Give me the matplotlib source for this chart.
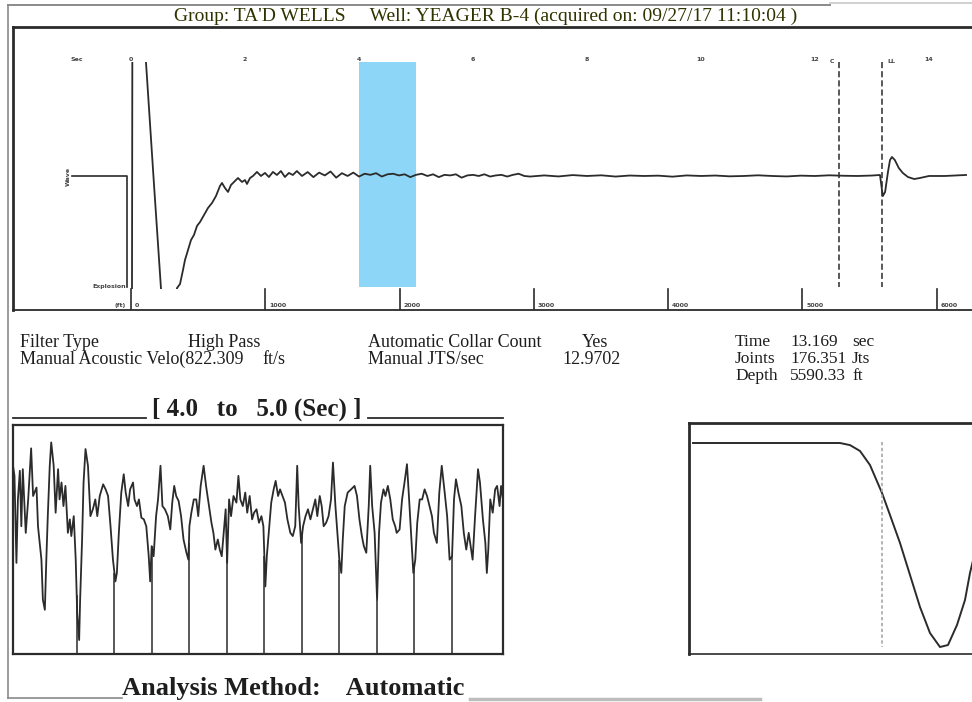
import numpy as np
import matplotlib
matplotlib.use("Agg")
import matplotlib.pyplot as plt
from matplotlib.patches import Rectangle

# ---------------------------------------------------------------
# Data
# ---------------------------------------------------------------

header = "Group: TA'D WELLS     Well: YEAGER B-4 (acquired on: 09/27/17 11:10:04 )"

# main trace (time in sec, normalised amplitude)
shot_t = [0.0175, 0.025, 0.18, 0.263, 0.40, 0.526, 0.62, 0.72, 0.77,
          0.807, 0.860, 0.912, 0.947, 1.000, 1.053, 1.105, 1.158, 1.211, 1.281,
          1.351, 1.421, 1.491, 1.561, 1.596, 1.649, 1.702, 1.754, 1.825, 1.877,
          1.947, 2.000, 2.035, 2.088, 2.140, 2.210, 2.280, 2.350, 2.420, 2.490,
          2.560, 2.630, 2.700, 2.770, 2.840, 2.910]
shot_a = [-1.0, 1.6, 1.6, 1.01, -0.05, -1.0, -1.5, -1.5, -1.2,
          -0.996, -0.96, -0.836, -0.747, -0.658, -0.569, -0.524, -0.444, -0.409, -0.347,
          -0.284, -0.24, -0.178, -0.089, -0.062, -0.107, -0.142, -0.08, -0.044, -0.018,
          -0.053, -0.036, -0.071, -0.018, 0.0, 0.036, 0.0, 0.027, -0.009, 0.036,
          0.009, 0.044, -0.009, 0.027, 0.009, 0.044]

# settled part, 3.0 - 7.0 sec
flat_t = [3.0, 3.1, 3.2, 3.3, 3.4, 3.5, 3.6, 3.7, 3.8, 3.9, 4.0, 4.1, 4.2, 4.3,
          4.4, 4.5, 4.6, 4.7, 4.8, 4.9, 5.0, 5.1, 5.2, 5.3, 5.4, 5.5, 5.6, 5.7,
          5.8, 5.9, 6.0, 6.1, 6.2, 6.3, 6.4, 6.5, 6.6, 6.7, 6.8, 6.9, 7.0]
flat_a = [0.0, 0.035, -0.01, 0.03, 0.005, 0.04, -0.015, 0.025, 0.0, 0.03, -0.005,
          0.02, 0.01, 0.025, -0.005, 0.015, 0.02, 0.005, 0.015, -0.01, 0.01, 0.02,
          0.0, 0.015, -0.01, 0.01, 0.005, 0.015, -0.015, 0.005, 0.01, 0.0, 0.015,
          -0.005, 0.005, 0.01, -0.005, 0.01, 0.02, 0.0, -0.005]

# quiet part up to the liquid level
quiet_t = [7.25, 7.5, 7.75, 8.0, 8.25, 8.5, 8.75, 9.0, 9.25, 9.5, 9.75, 10.0,
           10.25, 10.5, 10.75, 11.0, 11.25, 11.5, 11.75, 12.0, 12.25, 12.5,
           12.75, 13.0]
quiet_a = [0.005, -0.004, 0.008, 0.0, 0.006, -0.005, 0.004, 0.0, 0.003, -0.006,
           0.005, 0.0, 0.004, -0.003, 0.0, 0.006, 0.0, -0.004, 0.003, 0.0,
           0.006, 0.002, 0.0, 0.004]

# liquid level echo
echo_t = [13.14, 13.175, 13.19, 13.23, 13.28, 13.316, 13.35, 13.40, 13.47,
          13.54, 13.63, 13.74, 13.84, 14.0, 14.28, 14.65]
echo_a = [0.009, -0.124, -0.178, -0.142, 0.036, 0.142, 0.169, 0.142, 0.071,
          0.027, -0.009, -0.027, -0.018, 0.0, 0.0, 0.009]

time_ticks = [0, 2, 4, 6, 8, 10, 12, 14]
depth_ticks = [0, 1000, 2000, 3000, 4000, 5000, 6000]
ft_per_sec = 424.5
window = (4.0, 5.0)
collar_t = 12.42
liquid_t = 13.169

# 4.0 - 5.0 sec window (ms from 4.0 s, amplitude %)
win_ms = [0, 3, 7, 10, 14, 17, 20, 26, 31, 37, 41, 48, 51, 58, 61, 65, 68, 71, 75,
          78, 83, 87, 92, 95, 99, 103, 107, 112, 116, 119, 124, 128, 131, 135, 137,
          141, 144, 148, 153, 158, 163, 168, 172, 177, 184, 189, 194, 199, 204, 209,
          212, 216, 221, 226, 230, 235, 239, 245, 248, 253, 257, 262, 267, 272, 277,
          280, 283, 287, 292, 296, 301, 305, 310, 316, 321, 325, 329, 333, 338, 343,
          348, 354, 358, 360, 364, 369, 374, 378, 383, 389, 394, 400, 405, 409, 413,
          418, 422, 426, 430, 434, 437, 441, 445, 450, 456, 460, 464, 469, 474, 478,
          483, 488, 492, 497, 502, 507, 511, 515, 518, 522, 527, 532, 536, 541, 545,
          550, 555, 560, 566, 571, 576, 580, 583, 588, 592, 597, 602, 607, 612, 617,
          621, 626, 630, 634, 639, 644, 649, 653, 658, 662, 666, 670, 673, 677, 683,
          690, 697, 702, 707, 712, 716, 721, 726, 729, 733, 738, 743, 747, 751, 756,
          760, 765, 770, 775, 780, 783, 789, 794, 799, 804, 808, 813, 817, 821, 825,
          830, 835, 840, 845, 850, 855, 859, 865, 870, 875, 881, 886, 891, 896, 900,
          904, 909, 915, 920, 925, 930, 934, 938, 943, 949, 953, 959, 964, 967, 970,
          974, 979, 984, 988, 993, 996, 1000]
win_amp = [82.2, 77.8, 39.8, 67.5, 80.0, 55.8, 80.7, 52.9, 67.5, 89.8, 69.0, 72.7,
           55.8, 41.2, 23.7, 19.3, 41.2, 60.2, 82.2, 92.4, 82.2, 61.7, 80.7, 67.5,
           74.9, 64.6, 73.4, 52.9, 58.8, 51.5, 60.2, 41.2, 17.8, 6.1, 23.7, 50.0,
           74.9, 89.5, 82.2, 60.2, 63.2, 67.5, 60.2, 69.0, 74.1, 71.9, 69.0, 55.8,
           41.2, 31.7, 35.4, 52.9, 70.5, 78.5, 70.5, 64.6, 71.9, 74.9, 67.5, 64.6,
           67.5, 59.5, 58.8, 55.8, 42.7, 31.7, 47.1, 42.7, 60.2, 67.5, 82.2, 64.6,
           63.2, 60.2, 54.4, 66.1, 73.4, 69.0, 66.8, 60.2, 50.0, 44.2, 41.2, 55.8,
           61.7, 67.5, 67.5, 60.2, 73.4, 82.2, 73.4, 64.6, 57.3, 52.9, 45.6, 50.0,
           45.6, 42.7, 52.9, 63.2, 39.8, 67.5, 60.2, 69.0, 66.1, 77.8, 67.5, 64.6,
           70.5, 61.7, 69.0, 58.8, 61.7, 63.2, 57.3, 60.2, 55.8, 29.5, 42.7, 52.9,
           66.1, 71.9, 75.6, 69.0, 71.9, 69.0, 66.1, 58.8, 52.9, 51.5, 55.8, 82.2,
           64.6, 48.5, 55.8, 60.2, 63.2, 58.8, 63.2, 67.5, 60.2, 69.0, 64.6, 55.8,
           57.3, 60.2, 67.5, 83.6, 64.6, 52.9, 41.2, 35.4, 50.0, 64.6, 70.5, 71.9,
           73.4, 69.0, 58.8, 51.5, 47.1, 44.2, 64.6, 82.2, 64.6, 52.9, 23.7, 52.9,
           66.1, 71.9, 69.0, 73.4, 67.5, 58.8, 55.8, 52.9, 54.4, 67.5, 74.9, 82.9,
           69.0, 50.0, 35.4, 41.2, 57.3, 67.5, 67.5, 71.9, 69.0, 64.6, 60.2, 52.9,
           48.5, 70.5, 82.2, 70.5, 60.2, 41.2, 42.7, 67.5, 76.3, 70.5, 64.6, 52.9,
           45.6, 52.9, 47.1, 41.2, 60.2, 80.7, 74.9, 58.8, 48.5, 35.4, 45.6, 67.5,
           61.7, 71.9, 73.4, 64.6, 73.4, 67.5]
joint_ms = [130, 207, 283, 359, 436, 513, 590, 666, 743, 819, 896]

# collar wavelet (lag, normalised amplitude)
lag = [0.4, 7.1, 15.1, 16.1, 17.1, 18.1, 19.3, 20.1, 21.1, 22.1, 23.1, 24.1,
       25.1, 25.9, 26.8, 27.6, 28.1, 28.7, 29.6]
wavelet = [1.0, 1.0, 1.0, 0.98, 0.924, 0.79, 0.524, 0.314, 0.048, -0.257, -0.562,
           -0.81, -0.943, -0.924, -0.733, -0.495, -0.238, 0.0, 0.4]
pick_lag = 19.3

# ---------------------------------------------------------------
# Figure helpers (pixel layout of the 972 x 702 print)
# ---------------------------------------------------------------
W, H = 972, 702
INK = "#2b2b2b"
SERIF = "Liberation Serif"


def box(x0, y0, x1, y1):
    return [x0 / W, 1 - y1 / H, (x1 - x0) / W, (y1 - y0) / H]


def ftext(x, y, s, **kw):
    kw.setdefault("family", SERIF)
    kw.setdefault("color", "#1e1e1e")
    kw.setdefault("va", "center")
    fig.text(x / W, 1 - y / H, s, **kw)


fig = plt.figure(figsize=(W / 100, H / 100), dpi=100)

# outer frame of the printout
frame = fig.add_axes([0, 0, 1, 1])
frame.set_xlim(0, W)
frame.set_ylim(H, 0)
frame.axis("off")
frame.plot([8, 8], [5, 698], color="#8a8a8a", lw=1.2)
frame.plot([8, 830], [5, 5], color="#8a8a8a", lw=1.4)
frame.plot([830, 972], [3, 3], color="#c8c8c8", lw=1.2)
frame.plot([8, 122], [698, 698], color="#8a8a8a", lw=1.2)
frame.plot([470, 760], [699, 699], color="#bdbdbd", lw=2.5)

ftext(486, 16, header, ha="center", fontsize=14, color="#2f3300")

# ---------------------------------------------------------------
# Top panel: full shot
# ---------------------------------------------------------------
ax = fig.add_axes(box(13, 27, 980, 310))
x_lo = (13 - 131) / 57
x_hi = (980 - 131) / 57
ax.set_xlim(x_lo, x_hi)
ax.set_ylim(-1.191, 1.324)
ax.set_xticks([])
ax.set_yticks([])
for side in ["left", "top"]:
    ax.spines[side].set_linewidth(2)
    ax.spines[side].set_color(INK)
ax.spines["bottom"].set_linewidth(1.3)
ax.spines["bottom"].set_color(INK)
ax.spines["right"].set_visible(False)

ax.axvspan(window[0], window[1], ymin=(-0.99 + 1.191) / 2.515, ymax=(1.01 + 1.191) / 2.515,
           color="#8dd6f7", lw=0)

t_all = shot_t + flat_t + quiet_t + echo_t
a_all = shot_a + flat_a + quiet_a + echo_a
line, = ax.plot(t_all, a_all, color=INK, lw=1.3)
line.set_clip_path(Rectangle((x_lo, -1.0), x_hi - x_lo, 2.01, transform=ax.transData))

# explosion marker step
ax.plot([-1.04, -0.075, -0.075], [0, 0, -0.99], color=INK, lw=1.2)

for t_mark in [collar_t, liquid_t]:
    ax.plot([t_mark, t_mark], [1.01, -0.99], color=INK, lw=1.1, ls=(0, (4, 2)))

tick_kw = dict(fontsize=4.5, fontweight="bold", color="#444444", family="DejaVu Sans")
for t in time_ticks:
    ax.text(t, 1.031, str(t), ha="center", va="center", **tick_kw)
ax.text(-0.95, 1.031, "Sec", ha="center", va="center", **tick_kw)
ax.text(12.3, 1.02, "C", ha="center", va="center", **tick_kw)
ax.text(liquid_t + 0.1, 1.02, "LL", ha="left", va="center", **tick_kw)
ax.text(-1.1, 0, "Wave", rotation=90, ha="center", va="center", **tick_kw)
ax.text(-0.08, -0.98, "Explosion", ha="right", va="center", **tick_kw)

for d in depth_ticks:
    td = d / ft_per_sec
    ax.plot([td, td], [-1.0, -1.191], color=INK, lw=1.2)
    ax.text(td + 0.07, -1.155, str(d), ha="left", va="center", **tick_kw)
ax.text(-0.1, -1.155, "(ft)", ha="right", va="center", **tick_kw)

# ---------------------------------------------------------------
# Settings block
# ---------------------------------------------------------------
fs = 13
ftext(20, 342, "Filter Type", fontsize=fs)
ftext(188, 342, "High Pass", fontsize=fs)
ftext(368, 342, "Automatic Collar Count", fontsize=fs)
ftext(608, 342, "Yes", fontsize=fs, ha="right")
ftext(20, 359, "Manual Acoustic Velo(822.309", fontsize=fs)
ftext(262, 359, "ft/s", fontsize=fs)
ftext(368, 359, "Manual JTS/sec", fontsize=fs)
ftext(562, 359, "12.9702", fontsize=fs)

fr = 12.5
ftext(735, 342, "Time", fontsize=fr)
ftext(790, 342, "13.169", fontsize=fr)
ftext(852, 342, "sec", fontsize=fr)
ftext(735, 359, "Joints", fontsize=fr)
ftext(790, 359, "176.351", fontsize=fr)
ftext(852, 359, "Jts", fontsize=fr)
ftext(735, 376, "Depth", fontsize=fr)
ftext(790, 376, "5590.33", fontsize=fr)
ftext(852, 376, "ft", fontsize=fr)

# ---------------------------------------------------------------
# Lower left: 4.0 - 5.0 sec window with joint picks
# ---------------------------------------------------------------
ftext(257, 409, "[ 4.0   to   5.0 (Sec) ]", fontsize=18, fontweight="bold", ha="center")
frame.plot([13, 146], [418, 418], color=INK, lw=1.3)
frame.plot([368, 503], [418, 418], color=INK, lw=1.3)

axw = fig.add_axes(box(13, 425, 503, 654))
axw.set_xlim(0, 1000)
axw.set_ylim(0, 100)
axw.set_xticks([])
axw.set_yticks([])
for s in axw.spines.values():
    s.set_linewidth(1.6)
    s.set_color(INK)
axw.plot(win_ms, win_amp, color=INK, lw=1.3)
axw.vlines(joint_ms, 0, np.interp(joint_ms, win_ms, win_amp), color=INK, lw=1.1)

ftext(122, 689, "Analysis Method:    Automatic", fontsize=19, fontweight="bold")

# ---------------------------------------------------------------
# Lower right: collar wavelet
# ---------------------------------------------------------------
axc = fig.add_axes(box(689, 423, 990, 654))
axc.set_xlim(0, 30.1)
axc.set_ylim(-1.0095, 1.1905)
axc.set_xticks([])
axc.set_yticks([])
for side in ["left", "top"]:
    axc.spines[side].set_linewidth(2)
    axc.spines[side].set_color(INK)
axc.spines["bottom"].set_linewidth(1.2)
axc.spines["bottom"].set_color(INK)
axc.spines["right"].set_visible(False)
axc.plot(lag, wavelet, color=INK, lw=1.4)
axc.plot([pick_lag, pick_lag], [1.01, -0.943], color="#a8a8a8", lw=1.2, ls=(0, (2, 1.5)))

fig.savefig("out.png", dpi=100)
